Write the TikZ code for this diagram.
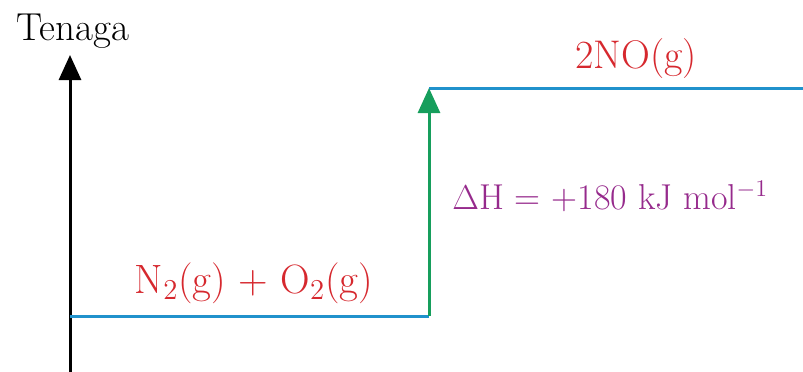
\documentclass[tikz,border=0pt]{standalone}
\usepackage{xcolor}
\usepackage{tikz}
\usetikzlibrary{positioning, arrows.meta}

\definecolor{levelblue}{RGB}{32,146,204}
\definecolor{stepgreen}{RGB}{22,158,92}
\definecolor{specred}{RGB}{214,40,46}
\definecolor{enthpurple}{RGB}{150,42,140}

\begin{document}
\begin{tikzpicture}[
  % one unit = one pixel of the reference
  x=0.5pt, y=-0.5pt,
  axis/.style={line width=1.5pt, -{Triangle[length=12.5pt,width=11pt]}},
  level/.style={line width=1.5pt, levelblue},
  rise/.style={line width=1.5pt, stepgreen, -{Triangle[length=12.5pt,width=11pt]}},
  species/.style={text=specred, inner sep=0pt, anchor=base},
]
  \useasboundingbox (0,0) rectangle (803,371);

  % Energy axis
  \coordinate (axisbot) at (70,380);
  \coordinate (axistop) at (70,55);
  \draw[axis] (axisbot) -- (axistop);
  \node[inner sep=0pt, anchor=base, font=\fontsize{19.5}{22}\selectfont] (tenaga) at (73,40) {Tenaga};

  % Reactant and product levels
  \coordinate (reactL) at (70,316);
  \coordinate (reactR) at (429,316);
  \coordinate (prodL) at (429,88);
  \coordinate (prodR) at (803,88);
  \draw[level] (reactL) -- (reactR);
  \draw[level] (prodL) -- (prodR);

  % Enthalpy change
  \draw[rise] (reactR) -- (prodL);

  % Labels
  \node[species, font=\fontsize{20.5}{24}\selectfont] (reactants) at (254,293) {N$_2$(g) + O$_2$(g)};
  \node[species, font=\fontsize{20}{24}\selectfont] (products) at (636,68) {2NO(g)};
  \node[inner sep=0pt, anchor=base west, text=enthpurple, font=\fontsize{18}{21}\selectfont] (deltah) at (452,209)
    {$\Delta$H = +180 kJ mol$^{-1}$};
\end{tikzpicture}
\end{document}
